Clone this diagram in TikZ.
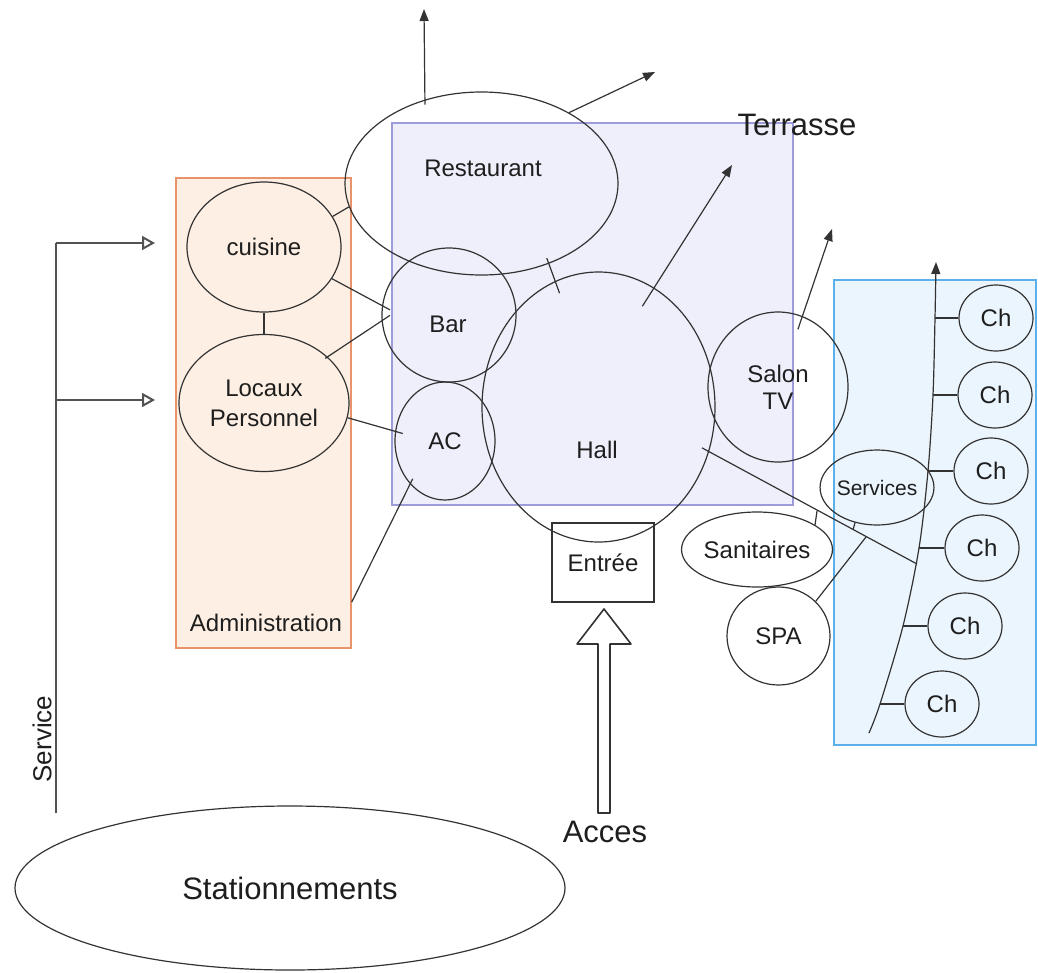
\documentclass[tikz,border=0pt]{standalone}
\usepackage{fontspec}
\setmainfont{Liberation Sans}
\usetikzlibrary{shapes.geometric,arrows.meta}
\definecolor{ln}{HTML}{333333}
\definecolor{txt}{HTML}{1E1E1E}
\definecolor{ofill}{HTML}{FDEFE3}
\definecolor{oline}{HTML}{E9936B}
\definecolor{pfill}{HTML}{EFEFFC}
\definecolor{pline}{HTML}{9C9CDB}
\definecolor{bfill}{HTML}{EBF5FD}
\definecolor{bline}{HTML}{5BB0E9}
\newcommand{\lblfont}{\fontsize{24}{30}\selectfont}
\newcommand{\bigfont}{\fontsize{31}{34}\selectfont}
\begin{document}
\begin{tikzpicture}[x=1pt,y=-1pt,
  zone/.style={rectangle, line width=1.4pt, inner sep=0pt},
  room/.style={ellipse, draw=ln, line width=1.2pt, inner sep=0pt, font=\lblfont, text=txt, align=center},
  chb/.style={room, minimum width=74pt, minimum height=66pt},
  lbl/.style={font=\lblfont, text=txt, inner sep=0pt, align=center},
  biglbl/.style={font=\bigfont, text=txt, inner sep=0pt},
  link/.style={draw=ln, line width=1.2pt},
  arr/.style={link, -{Triangle[length=12pt,width=9pt]}},
  svc/.style={draw=ln!85, line width=2pt},
  svcarr/.style={svc, -{Triangle[open,length=13pt,width=14pt]}}]
\useasboundingbox (0,0) rectangle (1038,972);

% zones
\node[zone, draw=oline, fill=ofill, minimum width=175pt, minimum height=470pt] (admin) at (263.5,413) {};
\node[zone, draw=pline, fill=pfill, minimum width=401pt, minimum height=382pt] (terr) at (592.5,314) {};
\node[zone, draw=bline, fill=bfill, minimum width=202pt, minimum height=465pt] (rooms) at (935,512.5) {};

% rooms
\node[room, minimum width=273pt, minimum height=183pt] (rest) at (481.5,183.5) {};
\node[lbl] (restT) at (483,168) {Restaurant};
\node[room, minimum width=154pt, minimum height=130pt] (cuisine) at (264,247) {cuisine};
\node[room, minimum width=170pt, minimum height=137pt] (locaux) at (264,403) {Locaux\\Personnel};
\node[room, minimum width=134pt, minimum height=134pt] (bar) at (449,315) {};
\node[lbl] (barT) at (448,324) {Bar};
\node[room, minimum width=100pt, minimum height=118pt] (ac) at (445,441) {AC};
\node[room, minimum width=233pt, minimum height=270pt] (hall) at (598.5,407) {};
\node[lbl] (hallT) at (597,450) {Hall};
\node[room, minimum width=140pt, minimum height=150pt] (salon) at (778,387) {Salon\\[-3pt]TV};
\node[room, minimum width=90pt, minimum height=75pt, font=\fontsize{21}{24}\selectfont] (serv) at (877,487.5) {Services};
\node[room, minimum width=142pt, minimum height=75pt] (san) at (757,549.5) {Sanitaires};
\node[room, minimum width=103pt, minimum height=98pt] (spa) at (778.5,636) {SPA};
\node[chb] (ch1) at (996,318) {Ch};
\node[chb] (ch2) at (995,395) {Ch};
\node[chb] (ch3) at (991,471) {Ch};
\node[chb] (ch4) at (982,548) {Ch};
\node[chb] (ch5) at (965,626) {Ch};
\node[chb] (ch6) at (942,704) {Ch};
\node[room, minimum width=550pt, minimum height=164pt, font=\bigfont] (park) at (290,888) {Stationnements};
\node[rectangle, draw=ln, line width=2.2pt, minimum width=102pt, minimum height=79pt, inner sep=0pt, font=\lblfont, text=txt] (entree) at (603,562.5) {Entrée};

% labels
\node[lbl] (adminT) at (266,623) {Administration};
\node[biglbl] (terrT) at (797,125) {Terrasse};
\node[biglbl] (acces) at (605,832) {Acces};
\node[lbl, rotate=90, font=\fontsize{26}{30}\selectfont] (svcT) at (42,739) {Service};

% free ends
\coordinate (tipUp) at (424,9);
\coordinate (tipNE) at (655,72);
\coordinate (tipT) at (732,165);
\coordinate (tipS) at (832,229);
\coordinate (corr) at (917,564);
\coordinate (j1) at (817,511);
\coordinate (j2) at (853,530);
\coordinate (j3) at (866,537);
\coordinate (k1) at (935,318);
\coordinate (k2) at (933,395);
\coordinate (k3) at (928,471);
\coordinate (k4) at (919,548);
\coordinate (k5) at (903,626);
\coordinate (k6) at (880,704);
\coordinate (s0) at (56,813);
\coordinate (s1) at (56,243);
\coordinate (s2) at (56,400);
\coordinate (a1) at (155,243);
\coordinate (a2) at (155,400);

% connectors
\draw[link] (cuisine.24) -- (rest.190);
\draw[link, shorten >=-9pt] (cuisine.-25) -- (bar.172);
\draw[link] (cuisine.-90) -- (locaux.90);
\draw[link, shorten <=-3pt, shorten >=-10pt] (locaux.36) -- (bar.185);
\draw[link, shorten >=-8pt] (locaux.-10) -- (ac.169);
\draw[link, shorten >=-6pt] (admin.-65.8) -- (ac.231);
\draw[link, shorten <=-6pt, shorten >=-13pt] (rest.-50.6) -- (hall.109.7);
\draw[arr, shorten <=-5pt] (rest.124.5) -- (tipUp);
\draw[arr] (rest.39.4) -- (tipNE);
\draw[arr, shorten <=-22pt] (hall.65.8) -- (tipT);
\draw[arr, shorten <=-14pt] (salon.71.6) -- (tipS);
\draw[link, shorten <=-8pt] (hall.-22.9) -- (corr);
\draw[link] (san.23) -- (j1);
\draw[link] (serv.-122) -- (j2);
\draw[link] (spa.43.3) -- (j3);
\draw[arr] plot[smooth, tension=0.5] coordinates {(869,733) (880,704) (903,626) (919,548) (928,471) (933,395) (935,318) (936,262)};
\foreach \k/\c in {k1/ch1,k2/ch2,k3/ch3,k4/ch4,k5/ch5,k6/ch6}
  \draw[link] (\k) -- (\c.west);

% service
\draw[svc] (s0) -- (s1);
\draw[svcarr] (s1) -- (a1);
\draw[svcarr] (s2) -- (a2);

% access block arrow
\draw[draw=ln, line width=1.6pt, fill=white, line join=round]
  (598,813) -- (598,644) -- (577,644) -- (604,609) -- (631,644) -- (610,644) -- (610,813) -- cycle;
\end{tikzpicture}
\end{document}
